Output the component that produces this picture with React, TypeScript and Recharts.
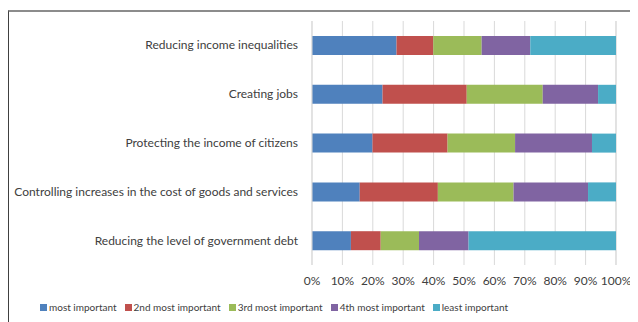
import { BarChart, Bar, XAxis, YAxis, CartesianGrid, Legend } from 'recharts';

const categories = [
  'Reducing income inequalities',
  'Creating jobs',
  'Protecting the income of citizens',
  'Controlling increases in the cost of goods and services',
  'Reducing the level of government debt',
];

const mostImportant = [27.8, 23.2, 19.9, 15.7, 12.8];
const secondMost = [12.1, 27.7, 24.7, 25.7, 9.8];
const thirdMost = [15.9, 25.0, 22.2, 24.9, 12.6];
const fourthMost = [16.0, 18.2, 25.3, 24.5, 16.3];
const leastImportant = [28.2, 5.9, 7.9, 9.2, 48.5];

const percentTicks = [0, 10, 20, 30, 40, 50, 60, 70, 80, 90, 100];

const series = [
  { key: 'most', name: 'most important', color: '#4F81BD', values: mostImportant },
  { key: 'second', name: '2nd most important', color: '#C0504D', values: secondMost },
  { key: 'third', name: '3rd most important', color: '#9BBB59', values: thirdMost },
  { key: 'fourth', name: '4th most important', color: '#8064A2', values: fourthMost },
  { key: 'least', name: 'least important', color: '#4BACC6', values: leastImportant },
];

const data = categories.map((name, i) => {
  const row: Record<string, string | number> = { name };
  series.forEach(s => { row[s.key] = s.values[i]; });
  return row;
});

// fixed height so the plot area keeps the reference's bottom edge
const renderLegend = () => (
  <div style={{
    height: 28, display: 'flex', alignItems: 'flex-end', gap: 8,
    fontSize: 10, color: '#404040', whiteSpace: 'nowrap',
  }}>
    {series.map(s => (
      <span key={s.key} style={{ display: 'flex', alignItems: 'center', lineHeight: '13px' }}>
        <span style={{ width: 7, height: 7, background: s.color, marginRight: 2, display: 'inline-block' }} />
        {s.name}
      </span>
    ))}
  </div>
);

// single-line category label, right aligned against the axis
const CategoryTick = (props: any) => {
  const { x, y, payload } = props;
  return (
    <text x={x - 12} y={y} dy={4} textAnchor="end" fontSize={12} fill="#404040">
      {payload.value}
    </text>
  );
};

export default function App() {
  return (
    <div style={{
      position: 'relative', width: 630, height: 312, marginTop: 2,
      borderTop: '2px solid #8c8c8c', borderLeft: '1px solid #404040',
      fontFamily: 'Lato, sans-serif', background: '#fff',
    }}>
      <BarChart
        width={629}
        height={310}
        data={data}
        layout="vertical"
        margin={{ top: 9, right: 22, bottom: 0, left: 0 }}
        barSize={19}
      >
        <CartesianGrid horizontal={false} stroke="#d9d9d9" />
        <XAxis
          type="number"
          domain={[0, 100]}
          ticks={percentTicks}
          tickFormatter={v => `${v}%`}
          axisLine={false}
          tickLine={false}
          tickSize={0}
          tickMargin={11}
          interval={0}
          height={29}
          tick={{ fontSize: 12, fill: '#404040' }}
        />
        <YAxis
          type="category"
          dataKey="name"
          width={303}
          axisLine={{ stroke: '#d9d9d9' }}
          tickLine={false}
          tickSize={0}
          tick={<CategoryTick />}
        />
        <Legend
          content={renderLegend}
          verticalAlign="bottom"
          wrapperStyle={{ left: 31, bottom: 8, width: 'auto' }}
        />
        {series.map(s => (
          <Bar
            key={s.key}
            dataKey={s.key}
            name={s.name}
            stackId="a"
            fill={s.color}
            isAnimationActive={false}
          />
        ))}
      </BarChart>
    </div>
  );
}
